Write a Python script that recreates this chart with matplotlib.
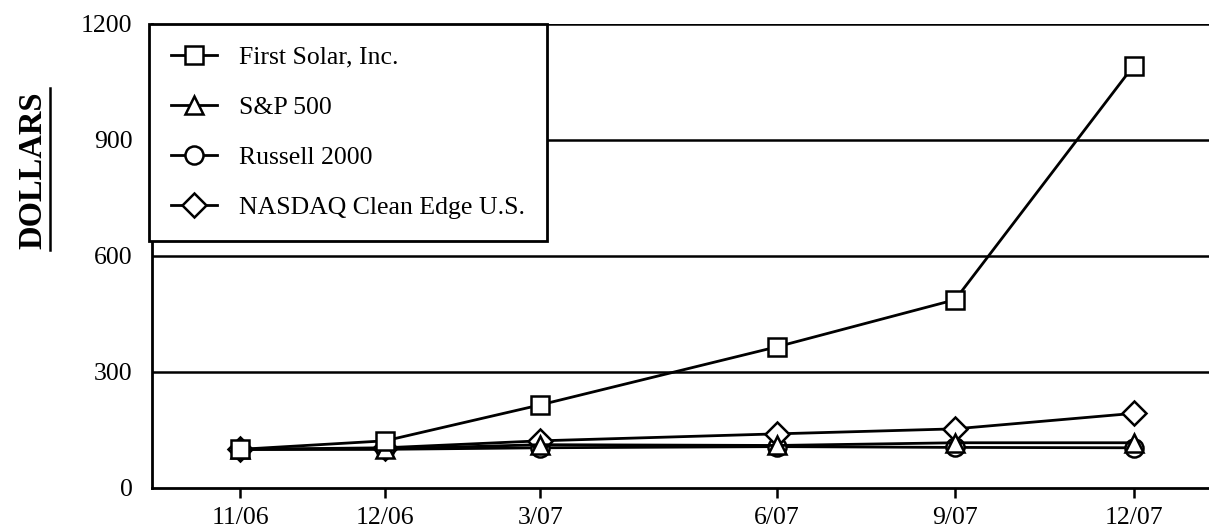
import matplotlib
matplotlib.use("Agg")
import matplotlib.pyplot as plt
from matplotlib.lines import Line2D

# ---- data ----
periods = ["11/06", "12/06", "3/07", "6/07", "9/07", "12/07"]
period_pos = [0, 1, 2.07, 3.70, 4.93, 6.16]   # spacing as drawn in the original
first_solar = [100, 122, 215, 365, 487, 1092]
sp500 = [100, 101, 112, 110, 117, 117]
russell2000 = [100, 100, 104, 107, 105, 104]
nasdaq_clean_edge = [100, 104, 122, 140, 153, 193]
series_names = ["First Solar, Inc.", "S&P 500", "Russell 2000", "NASDAQ Clean Edge U.S."]
y_ticks = [0, 300, 600, 900, 1200]

plt.rcParams['font.family'] = ['Liberation Serif', 'DejaVu Serif']

fig = plt.figure(figsize=(12.09, 5.31), dpi=100)
ax = fig.add_axes([152/1209, 43/531, 1 - 152/1209, (488-24)/531])

common = dict(color='black', lw=2.0, markerfacecolor='white',
              markeredgecolor='black', markeredgewidth=1.8, markersize=13)
lines = {}
lines[series_names[2]], = ax.plot(period_pos, russell2000, marker='o', zorder=3, **common)
lines[series_names[1]], = ax.plot(period_pos, sp500, marker='^', zorder=4, **common)
lines[series_names[3]], = ax.plot(period_pos, nasdaq_clean_edge, marker='D', zorder=3,
                                  **{**common, 'markersize': 12})
lines[series_names[0]], = ax.plot(period_pos, first_solar, marker='s', zorder=5, **common)

ax.set_xlim(-0.607, 6.68)
ax.set_ylim(0, 1200)
ax.set_yticks(y_ticks)
ax.set_xticks(period_pos)
ax.set_xticklabels(periods)
ax.tick_params(axis='x', direction='out', length=7, width=1.8, pad=7, labelsize=18.5)
ax.tick_params(axis='y', length=0, pad=14, labelsize=18.5)

for yv in y_ticks[1:]:
    ax.axhline(yv, color='black', lw=1.8, zorder=1)

ax.spines['top'].set_visible(False)
ax.spines['right'].set_visible(False)
ax.spines['left'].set_linewidth(2.0)
ax.spines['bottom'].set_linewidth(2.0)

leg = ax.legend([lines[n] for n in series_names], series_names,
                loc='upper left', bbox_to_anchor=(-0.003, 1.0), borderaxespad=0,
                frameon=True, fancybox=False, edgecolor='black', framealpha=1,
                fontsize=18.5, labelspacing=1.05, handlelength=1.8, handletextpad=0.85,
                borderpad=0.85, numpoints=1)
leg.get_frame().set_linewidth(2.0)
leg.set_zorder(10)

fig.text(33/1209, 1 - 170/531, "DOLLARS", rotation=90, fontsize=23.5,
         fontweight='bold', ha='center', va='center')
fig.add_artist(Line2D([50/1209, 50/1209], [1 - 250/531, 1 - 88/531],
                      transform=fig.transFigure, color='black', lw=1.8))

fig.savefig("out.png", dpi=100)
